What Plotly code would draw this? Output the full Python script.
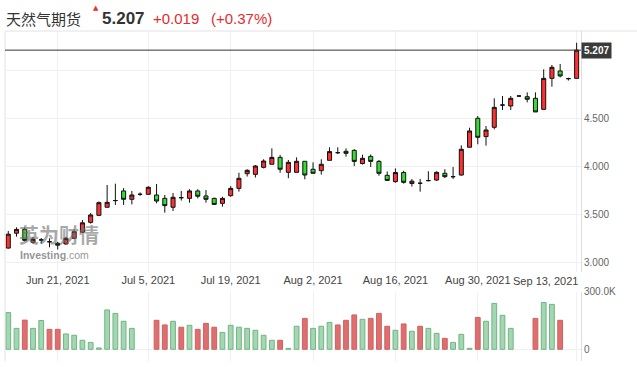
import plotly.graph_objects as go

# ---------------- data ----------------
tick_index = [6, 17, 27, 37, 47, 57, 69]
tick_labels = ["Jun 21, 2021", "Jul 5, 2021", "Jul 19, 2021", "Aug 2, 2021",
               "Aug 16, 2021", "Aug 30, 2021", "Sep 13, 2021"]

opens = [3.145, 3.300, 3.340, 3.205, 3.230, 3.211, 3.195, 3.188, 3.247, 3.310,
         3.413, 3.486, 3.570, 3.640, 3.740, 3.653, 3.705, 3.705, 3.698, 3.663,
         3.570, 3.670, 3.663, 3.740, 3.688, 3.663, 3.611, 3.691, 3.767, 3.920,
         3.913, 3.986, 4.018, 4.090, 3.934, 3.934, 4.049, 3.966, 3.952, 4.059,
         4.139, 4.153, 4.163, 4.026, 4.100, 4.048, 3.903, 3.837, 3.932, 3.818,
         3.820, 3.848, 3.854, 3.924, 3.889, 3.906, 4.195, 4.497, 4.306, 4.403,
         4.635, 4.625, 4.729, 4.722, 4.705, 4.590, 4.913, 4.990, 4.910, 4.913]
highs = [3.323, 3.361, 3.361, 3.262, 3.250, 3.247, 3.210, 3.262, 3.340, 3.438,
         3.510, 3.630, 3.802, 3.816, 3.770, 3.740, 3.725, 3.790, 3.812, 3.698,
         3.719, 3.740, 3.758, 3.758, 3.750, 3.670, 3.680, 3.790, 3.930, 3.966,
         4.010, 4.070, 4.184, 4.115, 4.063, 4.090, 4.049, 4.038, 4.070, 4.195,
         4.195, 4.184, 4.175, 4.118, 4.120, 4.063, 3.943, 3.975, 3.950, 3.865,
         3.865, 3.945, 3.945, 3.966, 3.990, 4.215, 4.399, 4.521, 4.417, 4.705,
         4.729, 4.729, 4.736, 4.767, 4.767, 5.007, 5.052, 5.063, 4.920, 5.284]
lows = [3.140, 3.264, 3.215, 3.190, 3.190, 3.153, 3.130, 3.180, 3.240, 3.300,
        3.400, 3.478, 3.570, 3.594, 3.594, 3.600, 3.690, 3.698, 3.611, 3.514,
        3.531, 3.640, 3.618, 3.663, 3.618, 3.595, 3.576, 3.680, 3.733, 3.890,
        3.880, 3.975, 4.018, 3.930, 3.872, 3.934, 3.861, 3.924, 3.910, 4.059,
        4.125, 4.097, 4.000, 4.015, 3.990, 3.899, 3.850, 3.826, 3.816, 3.786,
        3.733, 3.840, 3.845, 3.875, 3.865, 3.899, 4.195, 4.226, 4.212, 4.382,
        4.583, 4.583, 4.722, 4.663, 4.563, 4.590, 4.826, 4.924, 4.890, 4.913]
closes = [3.290, 3.340, 3.225, 3.238, 3.230, 3.211, 3.175, 3.247, 3.316, 3.408,
          3.490, 3.618, 3.622, 3.640, 3.653, 3.698, 3.705, 3.778, 3.635, 3.587,
          3.674, 3.670, 3.740, 3.685, 3.653, 3.600, 3.663, 3.767, 3.872, 3.955,
          4.000, 4.052, 4.090, 3.966, 4.038, 4.049, 3.906, 3.924, 4.018, 4.150,
          4.139, 4.132, 4.048, 4.080, 4.048, 3.924, 3.850, 3.932, 3.830, 3.842,
          3.820, 3.848, 3.934, 3.889, 3.889, 4.174, 4.365, 4.299, 4.375, 4.611,
          4.635, 4.705, 4.729, 4.695, 4.563, 4.913, 5.028, 4.938, 4.910, 5.207]
# None = no volume bar shown for that session
volumes = [191000, 109000, 152000, 109000, 150000, 104000, 104000, 80000, 73000, 47000,
           36000, 7000, 205000, 187000, 146000, 109000, None, None, 151000, 127000,
           146000, 115000, 125000, 104000, 135000, 115000, 88000, 125000, 115000, 109000,
           99000, 73000, 47000, 47000, 5000, 120000, 161000, 109000, 120000, 140000,
           127000, 151000, 179000, 156000, 161000, 187000, 120000, 99000, 132000, 94000,
           120000, 109000, 83000, 57000, 36000, 78000, 5000, 166000, 146000, 239000,
           177000, 109000, None, None, 161000, 244000, 234000, 151000, None, None]
# 1 = green volume bar, 0 = red volume bar
vol_green = [1, 1, 0, 1, 1, 0, 0, 1, 1, 1,
             1, 1, 1, 1, 1, 1, 1, 1, 0, 0,
             1, 0, 1, 0, 0, 0, 1, 1, 1, 1,
             1, 1, 1, 0, 1, 1, 0, 1, 1, 1,
             0, 0, 0, 1, 0, 0, 0, 1, 0, 1,
             0, 1, 1, 0, 1, 1, 1, 0, 1, 1,
             1, 1, 1, 1, 0, 1, 1, 0, 1, 1]
last_price = 5.207
price_ticks = [3.0, 3.5, 4.0, 4.5, 5.0]
price_tick_text = ["3.000", "3.500", "4.000", "4.500", ""]
vol_ticks = [0, 300000]
vol_tick_text = ["0", "300.0K"]

title_name = "天然气期货"
title_price = "5.207"
title_change = "+0.019"
title_pct = "(+0.37%)"

# ---------------- figure ----------------
idx = list(range(len(opens)))
W, H = 637, 367
ML, MR, MT, MB = 5, 56, 31, 6
PW, PH = W - ML - MR, H - MT - MB


def px_x(px):
    return (px - ML) / PW


def px_y(py):
    return (H - MB - py) / PH


RED = "#ff3030"
GREEN = "#33dd33"
FONT = "Liberation Sans, Arial, sans-serif"

fig = go.Figure()

fig.add_trace(go.Candlestick(
    x=idx, open=opens, high=highs, low=lows, close=closes,
    increasing=dict(fillcolor=RED, line=dict(color="#111111", width=1)),
    decreasing=dict(fillcolor=GREEN, line=dict(color="#111111", width=1)),
    whiskerwidth=0, xaxis="x", yaxis="y", showlegend=False, hoverinfo="skip"))

fills = ["#a4d7b1" if g else "#df6f6f" for g in vol_green]
lines = ["#6fb583" if g else "#d06060" for g in vol_green]
fig.add_trace(go.Bar(
    x=idx, y=volumes, marker=dict(color=fills, line=dict(color=lines, width=1)),
    xaxis="x2", yaxis="y2", showlegend=False, hoverinfo="skip"))

grid = "#f0f0f0"
xr = [-0.40, 69.53]
common_x = dict(range=xr, tickmode="array", tickvals=tick_index, showgrid=True,
                gridcolor=grid, gridwidth=1, zeroline=False, showline=False,
                ticks="", fixedrange=True)

fig.update_layout(
    width=W, height=H, margin=dict(l=ML, r=MR, t=MT, b=MB),
    paper_bgcolor="white", plot_bgcolor="white",
    boxgap=0.3, bargap=0.42,
    font=dict(family=FONT, size=11, color="#444"),
    xaxis=dict(**common_x, anchor="y", domain=[0, 1],
               ticktext=tick_labels[:-1] + [""],
               tickfont=dict(size=11, color="#444"),
               rangeslider=dict(visible=False)),
    xaxis2=dict(**common_x, anchor="y2", domain=[0, 1], matches="x",
                showticklabels=False),
    yaxis=dict(domain=[0.2697, 1], range=[2.8958, 5.4063], side="right",
               tickmode="array", tickvals=price_ticks, ticktext=price_tick_text,
               showgrid=True, gridcolor=grid, zeroline=False, ticks="",
               showline=True, linecolor="#dddddd", linewidth=1,
               tickfont=dict(size=10, color="#666"), anchor="x", fixedrange=True),
    yaxis2=dict(domain=[0, 0.21], range=[-61000, 300000], side="right",
                tickmode="array", tickvals=vol_ticks, ticktext=vol_tick_text,
                showgrid=True, gridcolor=grid, zeroline=False, ticks="",
                showline=True, linecolor="#dddddd", linewidth=1,
                tickfont=dict(size=10, color="#666"), anchor="x2", fixedrange=True),
)

# borders
fig.add_shape(type="line", xref="paper", yref="paper", x0=0, x1=0, y0=0, y1=1,
              line=dict(color="#e2e2e2", width=1))
fig.add_shape(type="line", xref="paper", yref="paper", x0=0, x1=px_x(W), y0=1, y1=1,
              line=dict(color="#e2e2e2", width=1))
# last price line
fig.add_shape(type="line", xref="paper", yref="y", x0=0, x1=1,
              y0=last_price, y1=last_price, line=dict(color="#333333", width=1))

ann = []
ann.append(dict(xref="paper", yref="y", x=1, y=last_price, xanchor="left",
                yanchor="middle", text="<b>%.3f</b>" % last_price, showarrow=False,
                bgcolor="#3a3a3a", borderpad=2, font=dict(color="white", size=10,
                                                          family=FONT)))
# clamped last tick label
ann.append(dict(xref="paper", yref="paper", x=px_x(580), y=px_y(280.5),
                xanchor="right", yanchor="middle", text=tick_labels[-1],
                showarrow=False, font=dict(size=11, color="#444", family=FONT)))
# header
ann.append(dict(xref="paper", yref="paper", x=px_x(4), y=px_y(18), xanchor="left",
                yanchor="middle", text=title_name, showarrow=False,
                font=dict(size=15, color="#333", family="Noto Sans CJK SC")))
ann.append(dict(xref="paper", yref="paper", x=px_x(95.5), y=px_y(8), xanchor="center",
                yanchor="middle", text="▲", showarrow=False,
                font=dict(size=7, color="#e53030", family="DejaVu Sans")))
ann.append(dict(xref="paper", yref="paper", x=px_x(100), y=px_y(18), xanchor="left",
                yanchor="middle", text="<b>%s</b>" % title_price, showarrow=False,
                font=dict(size=17, color="#333", family=FONT)))
ann.append(dict(xref="paper", yref="paper", x=px_x(151), y=px_y(18.5), xanchor="left",
                yanchor="middle", text=title_change, showarrow=False,
                font=dict(size=15, color="#e52b2b", family=FONT)))
ann.append(dict(xref="paper", yref="paper", x=px_x(209), y=px_y(18.5), xanchor="left",
                yanchor="middle", text=title_pct, showarrow=False,
                font=dict(size=15, color="#e52b2b", family=FONT)))
# watermark
ann.append(dict(xref="paper", yref="paper", x=px_x(17), y=px_y(234), xanchor="left",
                yanchor="middle", text="<b>英为财情</b>", showarrow=False,
                font=dict(size=20, color="rgba(110,110,110,0.6)",
                          family="Noto Sans CJK SC")))
ann.append(dict(xref="paper", yref="paper", x=px_x(18), y=px_y(255), xanchor="left",
                yanchor="middle", text="<b>Investing</b>.com", showarrow=False,
                font=dict(size=10.5, color="rgba(100,100,100,0.7)", family=FONT)))
fig.update_layout(annotations=ann)

fig.write_html("out.html",
               config={"displayModeBar": False, "staticPlot": True},
               post_script="document.body.style.margin='0';document.body.style.padding='0';")
